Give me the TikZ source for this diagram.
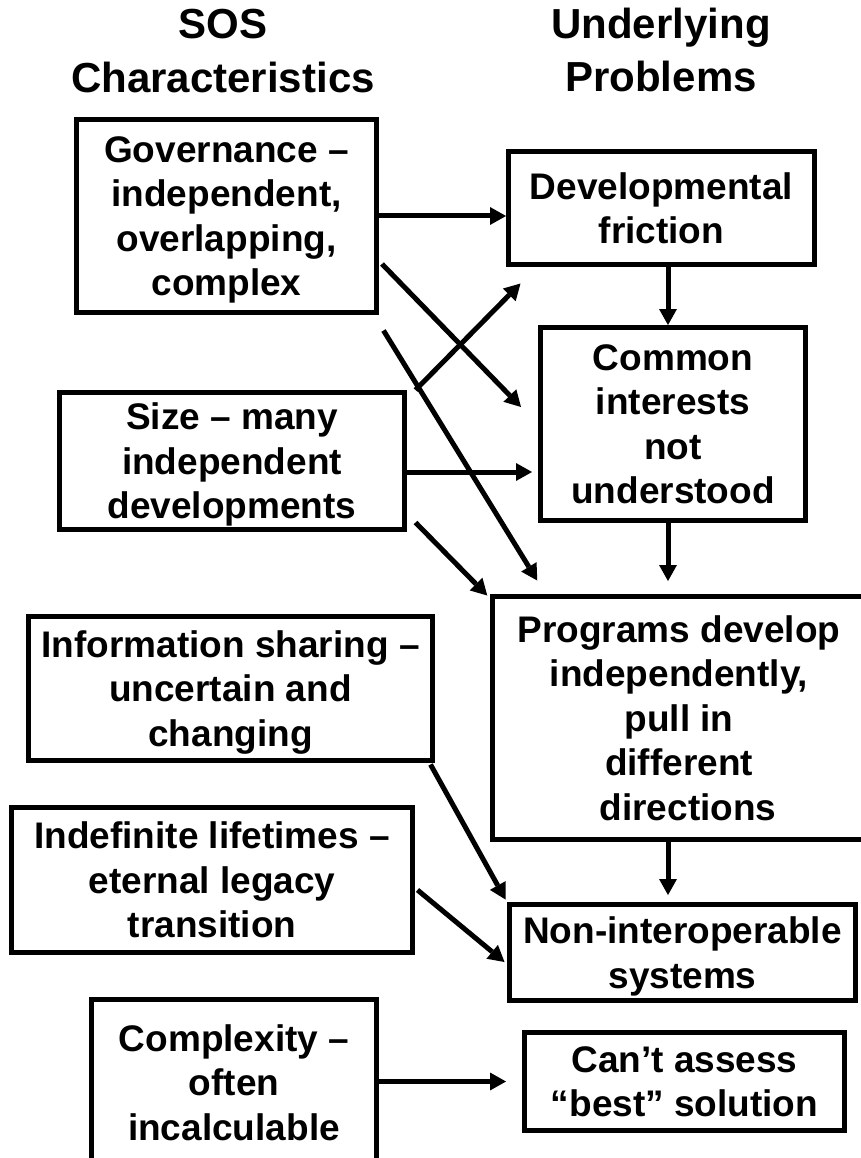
\documentclass[tikz,border=0pt]{standalone}
\usepackage{fontspec}
\setmainfont{Liberation Sans}
\usetikzlibrary{arrows.meta,calc}
\begin{document}
\begin{tikzpicture}[x=1pt,y=-1pt,
  box/.style={draw, line width=5pt, inner sep=0pt, align=center, text depth=0pt, font=\fontsize{37}{44.5}\selectfont\bfseries},
  hdr/.style={font=\fontsize{42}{53}\selectfont\bfseries, inner sep=0pt, anchor=base},
  arr/.style={line width=5pt, -{Triangle[length=16pt,width=18pt,line width=0pt]}}]
\useasboundingbox (0,0) rectangle (861,1158);
% headers
\node[hdr] (h1a) at (223,38.5) {SOS};
\node[hdr] (h1b) at (223,92.5) {Characteristics};
\node[hdr] (h2a) at (661,39) {Underlying};
\node[hdr] (h2b) at (661,92) {Problems};
% left boxes
\node[box, minimum width=300pt, minimum height=193pt] (gov) at (226.5,216) {Governance –\\independent,\\overlapping,\\complex};
\node[box, minimum width=345pt, minimum height=137pt] (size) at (232,461) {Size – many\\independent\\developments};
\node[box, minimum width=404pt, minimum height=144pt] (info) at (230.5,688.5) {Information sharing –\\uncertain and\\changing};
\node[box, minimum width=401pt, minimum height=145pt] (indef) at (212,880) {Indefinite lifetimes –\\eternal legacy\\transition};
\node[box, minimum width=285pt, minimum height=165.5pt] (cplx) at (234,1082.25) {Complexity –\\often\\incalculable};
% right boxes
\node[box, minimum width=306pt, minimum height=113pt] (dev) at (661.5,208) {Developmental\\friction};
\node[box, minimum width=265pt, minimum height=193pt] (com) at (673,424) {Common\\interests\\not\\understood};
\node[box, minimum width=373.5pt, minimum height=243pt] (prog) at (679,718) {Programs develop\\independently,\\pull in\\different\\\hspace*{18pt}directions};
\node[box, minimum width=346pt, minimum height=96pt] (non) at (682.5,952.5) {Non-interoperable\\systems};
\node[box, minimum width=320pt, minimum height=98pt] (cant) at (684.5,1081.5) {Can’t assess\\“best” solution};
% connectors
\coordinate (axis) at (668,0);
\draw[arr] (gov.east) -- (gov.east -| dev.west);
\draw[arr] (dev.south -| axis) -- (com.north -| axis);
\draw[arr] (com.south -| axis) -- ($(prog.north -| axis)+(0,-13)$);
\draw[arr] (prog.south -| axis) -- ($(non.north -| axis)+(0,-7)$);
\draw[arr] ($(size.east)+(0,11)$) -- ($(size.east -| com.west)+(-6,11)$);
\draw[arr] (cant.west -| cplx.east) -- ($(cant.west)+(-16,0)$);
\draw[arr] ($(gov.east)+(3,48)$) -- ($(com.west)+(-17,-17)$);
\draw[arr] ($(gov.south east)+(4.5,15.5)$) -- ($(prog.north west)+(47.5,-13.5)$);
\draw[arr] ($(size.north east)+(8.5,0)$) -- ($(dev.south west)+(14.5,16.5)$);
\draw[arr] ($(size.south east)+(8.5,-9.5)$) -- ($(prog.north west)+(-2.5,1.5)$);
\draw[arr] ($(info.south east)+(-4.5,1.5)$) -- ($(non.north west)+(-1.5,-2.5)$);
\draw[arr] ($(indef.east)+(2.5,10)$) -- ($(non.west)+(-2.5,9.5)$);
\end{tikzpicture}
\end{document}
